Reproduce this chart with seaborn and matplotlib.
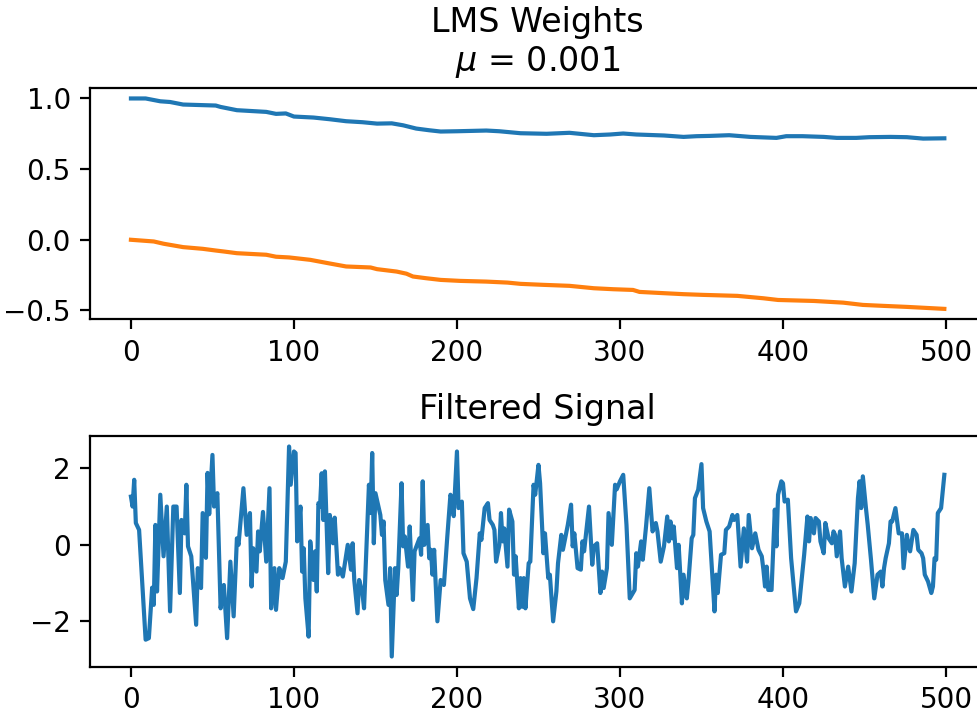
import numpy as np
import pandas as pd
import seaborn as sns
import matplotlib
matplotlib.use("Agg")
import matplotlib.pyplot as plt

# weights (sample index, value)
w0_idx = [0, 9, 18, 24, 32, 52, 55, 65, 83, 89, 95, 100, 112, 122, 132, 142, 151, 160,
          167, 175, 183, 190, 200, 218, 226, 239, 255, 269, 284, 294, 302, 310, 327,
          339, 347, 355, 367, 380, 396, 402, 412, 425, 433, 445, 453, 466, 476, 486, 499]
w0_val = [1.0, 1.0, 0.98, 0.975, 0.957, 0.95, 0.94, 0.917, 0.905, 0.891, 0.894, 0.872,
          0.865, 0.853, 0.839, 0.832, 0.822, 0.824, 0.81, 0.787, 0.775, 0.766, 0.768,
          0.773, 0.768, 0.754, 0.75, 0.757, 0.74, 0.745, 0.752, 0.745, 0.738, 0.728,
          0.733, 0.735, 0.74, 0.728, 0.721, 0.733, 0.733, 0.728, 0.721, 0.721, 0.726,
          0.728, 0.726, 0.716, 0.718]

w1_idx = [0, 14, 20, 32, 44, 52, 57, 65, 83, 89, 97, 110, 122, 132, 147, 151, 163, 169,
          173, 181, 190, 202, 218, 231, 239, 253, 269, 284, 296, 308, 312, 327, 339, 351,
          372, 388, 397, 419, 437, 449, 462, 476, 499]
w1_val = [0.0, -0.012, -0.028, -0.052, -0.064, -0.076, -0.083, -0.095, -0.106, -0.12,
          -0.125, -0.142, -0.168, -0.189, -0.196, -0.208, -0.225, -0.24, -0.26, -0.272,
          -0.284, -0.291, -0.296, -0.303, -0.312, -0.319, -0.326, -0.343, -0.35, -0.355,
          -0.369, -0.378, -0.385, -0.39, -0.397, -0.414, -0.426, -0.433, -0.445, -0.461,
          -0.468, -0.475, -0.489]

# filtered signal vertices
sig_idx = [0, 1, 2, 3, 5, 9, 11, 13, 14, 15, 16, 18, 20, 22, 24, 26, 28, 30, 31, 33, 34,
           35, 37, 40, 41, 43, 44, 46, 47, 48, 50, 51, 53, 55, 57, 59, 61, 63, 65, 66, 69,
           71, 73, 74, 75, 77, 78, 79, 81, 83, 85, 86, 88, 89, 91, 93, 95, 97, 98, 100,
           101, 102, 104, 105, 106, 107, 109, 110, 112, 113, 114, 115, 116, 117, 118, 119,
           121, 122, 124, 125, 127, 128, 130, 133, 135, 136, 137, 139, 140, 142, 143, 146,
           147, 148, 149, 150, 153, 154, 155, 156, 158, 159, 160, 162, 163, 164, 166, 167,
           168, 170, 171, 173, 174, 177, 178, 179, 180, 182, 183, 184, 185, 186, 188, 190,
           192, 194, 196, 197, 198, 200, 201, 203, 204, 206, 208, 210, 212, 214, 215, 217,
           219, 220, 222, 223, 224, 226, 227, 228, 229, 231, 232, 234, 235, 236, 238, 239,
           240, 241, 242, 244, 245, 247, 248, 250, 251, 253, 254, 256, 257, 259, 261, 262,
           264, 265, 268, 270, 271, 272, 274, 276, 277, 278, 281, 283, 284, 286, 288, 289,
           290, 292, 293, 295, 297, 298, 300, 302, 304, 306, 309, 310, 311, 313, 314, 316,
           318, 320, 322, 323, 325, 327, 329, 330, 331, 332, 333, 335, 336, 338, 339, 341,
           342, 344, 345, 346, 348, 350, 351, 353, 355, 358, 359, 360, 362, 364, 365, 367,
           369, 370, 372, 374, 376, 378, 379, 381, 383, 385, 387, 388, 389, 390, 391, 393,
           395, 396, 397, 399, 400, 401, 403, 405, 408, 410, 413, 415, 416, 417, 419, 420,
           422, 423, 425, 426, 428, 430, 431, 432, 433, 435, 436, 438, 440, 442, 444, 446,
           447, 448, 449, 451, 452, 454, 456, 458, 460, 461, 462, 463, 465, 466, 467, 468,
           469, 471, 473, 474, 476, 477, 478, 480, 482, 483, 485, 486, 487, 489, 491, 492,
           493, 494, 495, 497, 499]
sig_val = [1.26, 1.0, 1.70, 0.57, 0.39, -2.48, -2.44, -1.12, -1.57, 0.52, -1.22, 1.31,
           -0.30, 1.0, -1.74, 1.0, 1.0, -1.26, 0.65, 0.30, 1.57, -0.04, -0.30, -2.09,
           -0.61, -1.13, 0.83, -0.34, 1.88, 0.80, 2.35, 1.0, 1.35, -1.66, -1.05, -2.44,
           -0.44, -1.87, 0.17, 0.0, 1.48, 0.26, 0.83, -1.09, -0.09, -0.70, 0.35, -0.17,
           0.86, -0.44, 1.48, -1.66, -0.61, -1.70, -0.61, -0.87, -0.44, 2.57, 1.57, 2.44,
           2.40, 0.09, 1.0, -0.70, -0.09, -1.40, -2.40, 0.09, -0.92, -0.17, -1.22, 1.09,
           1.0, 1.87, 0.65, 1.92, -0.74, 0.78, 0.04, 0.71, -0.78, -0.61, -0.83, 0.0, -0.65,
           0.04, -0.92, -1.79, -0.92, -1.26, -1.66, 1.57, 0.83, 2.40, 0.04, 1.35, 0.78,
           0.26, 0.61, -0.92, -1.57, -0.61, -2.92, -0.61, -1.31, -0.61, 1.61, -0.04, 0.22,
           -0.57, 0.48, -1.44, -0.17, 0.17, -0.26, 1.66, 0.0, 0.52, -0.35, -0.13, -0.78,
           -0.13, -2.0, -0.92, -1.05, 0.17, 1.31, 1.2, 0.75, 2.44, 0.96, 1.13, -0.22,
           -0.44, -1.40, -1.68, -0.87, 0.30, 0.13, 0.96, 1.09, 0.65, 0.52, 0.39, -0.44,
           0.0, 0.83, 0.09, 0.43, -0.57, 0.92, 0.61, -0.78, -0.30, -1.66, -0.87, -1.62,
           -0.87, -1.66, -0.48, -0.44, 1.57, 1.31, 2.09, 1.61, -0.22, 0.30, -0.87, -0.78,
           -2.0, -1.22, -0.48, 0.26, -0.13, 0.52, 1.05, -0.04, 0.30, -0.61, -0.65, 0.09,
           -0.17, 1.0, -0.52, -0.04, 0.04, -1.26, -0.70, -1.13, -0.61, 0.83, 0.0, 1.57,
           1.45, 1.66, 1.83, 0.52, -1.40, -1.18, -0.22, -0.57, 0.09, -0.39, 0.48, 1.48,
           0.35, 0.57, 0.35, -0.44, -0.04, 0.74, 0.09, 0.61, 0.17, 0.48, -0.61, 0.0,
           -1.53, -0.78, -1.40, -0.96, 0.17, 0.26, 1.22, 1.44, 2.11, 0.96, 0.61, 0.35,
           -1.74, -0.78, -1.26, -0.26, -0.22, 0.39, 0.48, 0.78, 0.65, 0.78, -0.57, 0.43,
           -0.44, 0.78, -0.09, 0.30, -0.13, -0.30, -0.65, -1.09, -0.57, -1.18, -1.18,
           0.92, -0.04, 1.31, 1.66, 1.61, 1.13, 1.18, -0.35, -1.74, -1.53, -0.26, 0.74,
           0.09, 0.70, 0.30, 0.70, 0.61, 0.09, -0.22, 0.57, 0.17, 0.04, 0.35, 0.26, -0.30,
           0.35, -0.35, -1.09, -0.57, -1.22, -0.48, 1.22, 1.66, 0.96, 1.79, 0.92, 0.52,
           -0.39, -1.40, -0.78, -0.70, -1.09, -0.61, -0.35, 0.04, 0.61, 0.61, 0.78, 0.96,
           0.30, 0.30, -0.61, 0.26, 0.0, -0.17, 0.39, 0.26, -0.13, -0.22, -0.35, -0.78,
           -0.96, -1.26, -1.09, -0.35, -0.39, 0.83, 0.96, 1.83]

mu = 0.001

fig = plt.figure(figsize=(977 / 200, 715 / 200), dpi=200)
ax1 = fig.add_axes([0.0924, 0.5533, 0.9158, 0.3237])
ax2 = fig.add_axes([0.0924, 0.0671, 0.9158, 0.3231])

sns.lineplot(x=w0_idx, y=w0_val, ax=ax1, color="#1f77b4", linewidth=1.5)
sns.lineplot(x=w1_idx, y=w1_val, ax=ax1, color="#ff7f0e", linewidth=1.5)
ax1.set_title(f"LMS Weights\n$\\mu$ = {mu}", fontsize=12)
ax1.set_xticks([0, 100, 200, 300, 400, 500])

sns.lineplot(x=sig_idx, y=sig_val, ax=ax2, color="#1f77b4", linewidth=1.5)
ax2.set_title("Filtered Signal", fontsize=12)
ax2.set_xticks([0, 100, 200, 300, 400, 500])
ax2.set_yticks([-2, 0, 2])

for ax in (ax1, ax2):
    ax.set_xlim(-24.95, 523.95)

plt.savefig("out.png", dpi=200)
